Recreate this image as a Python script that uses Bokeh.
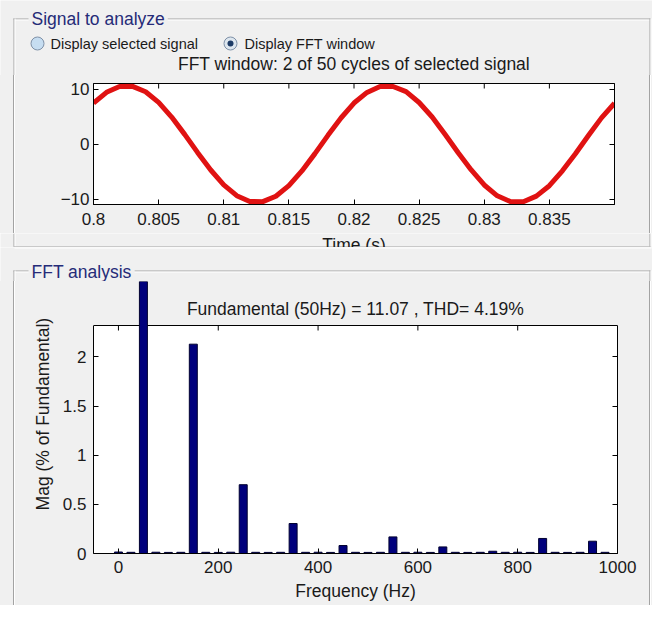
import math
from bokeh.plotting import figure
from bokeh.layouts import column, row
from bokeh.models import (FixedTicker, LinearAxis, Range1d, BoxAnnotation, Label,
                          Span, CustomJSTickFormatter)
from bokeh.embed import file_html
from bokeh.resources import INLINE

# ---------------- data ----------------
SIGNAL_TIME = [0.800, 0.801, 0.802, 0.803, 0.804, 0.805, 0.806, 0.807, 0.808, 0.809,
               0.810, 0.811, 0.812, 0.813, 0.814, 0.815, 0.816, 0.817, 0.818, 0.819,
               0.820, 0.821, 0.822, 0.823, 0.824, 0.825, 0.826, 0.827, 0.828, 0.829,
               0.830, 0.831, 0.832, 0.833, 0.834, 0.835, 0.836, 0.837, 0.838, 0.839,
               0.840]
SIGNAL_VALUE = [7.43, 9.40, 10.45, 10.48, 9.49, 7.56, 4.89, 1.75, -1.57, -4.73,
                -7.43, -9.40, -10.45, -10.48, -9.49, -7.56, -4.89, -1.75, 1.57, 4.73,
                7.45, 9.38, 10.47, 10.46, 9.51, 7.54, 4.91, 1.73, -1.59, -4.71,
                -7.45, -9.42, -10.47, -10.50, -9.47, -7.58, -4.87, -1.77, 1.55, 4.75,
                7.41]
TIME_TICKS = [0.8, 0.805, 0.81, 0.815, 0.82, 0.825, 0.83, 0.835]
TIME_TICK_LABELS = ["0.8", "0.805", "0.81", "0.815", "0.82", "0.825", "0.83", "0.835"]
SIGNAL_TICKS = [-10, 0, 10]
TIME_RANGE = (0.8, 0.84)
SIGNAL_RANGE = (-11, 11)

FREQ_HZ = [0, 25, 50, 75, 100, 125, 150, 175, 200, 225, 250, 275, 300, 325, 350,
           375, 400, 425, 450, 475, 500, 525, 550, 575, 600, 625, 650, 675, 700,
           725, 750, 775, 800, 825, 850, 875, 900, 925, 950, 975]
MAG_PCT = [0.015, 0.012, 100.0, 0.013, 0.011, 0.012, 2.13, 0.012, 0.011, 0.013,
           0.70, 0.012, 0.011, 0.012, 0.305, 0.012, 0.013, 0.011, 0.081, 0.012,
           0.011, 0.012, 0.169, 0.012, 0.013, 0.011, 0.067, 0.012, 0.011, 0.012,
           0.023, 0.012, 0.013, 0.011, 0.153, 0.012, 0.011, 0.012, 0.125, 0.012]
FREQ_TICKS = [0, 200, 400, 600, 800, 1000]
MAG_TICKS = [0, 0.5, 1, 1.5, 2]
MAG_TICK_LABELS = ["0", "0.5", "1", "1.5", "2"]
FREQ_RANGE = (-50, 1000)
MAG_BOX_TOP = 2.32

TOP_TITLE = "FFT window: 2 of 50 cycles of selected signal"
BOT_TITLE = "Fundamental (50Hz) = 11.07 , THD= 4.19%"
PANEL1 = "Signal to analyze"
PANEL2 = "FFT analysis"
RADIO_LABELS = ["Display selected signal", "Display FFT window"]
X1_LABEL = "Time (s)"
X2_LABEL = "Frequency (Hz)"
Y2_LABEL = "Mag (% of Fundamental)"

# ---------------- layout / style ----------------
FONT = "Liberation Sans"
BG = "#f0f0f0"
TXT = "#1a1a1a"
EDGE = "#a3a3a3"
TITLE_BLUE = "#252b78"
W = 652
LS = 55                          # width of the strip holding the y label
H1, H_ROW1, H2A, H2B, H_ROW2, H_FOOT = 75, 158, 14, 34, 324, 3
Y_ROW1 = H1
Y_2A = Y_ROW1 + H_ROW1
Y_2B = Y_2A + H2A
Y_ROW2 = Y_2B + H2B
Y_FOOT = Y_ROW2 + H_ROW2
# page geometry of the plot frames
T_FL, T_FR, T_FT, T_FB = 93, 614, 83, 204
B_FL, B_FR, B_FT, B_FB, B_BOXTOP = 93, 617, 281, 553, 325
MAG_VIEW_TOP = MAG_BOX_TOP * (B_FB - B_FT) / (B_FB - B_BOXTOP)
BX_L, BX_R = 13, 649            # group box vertical edges (page x)

# etched side edges of the group boxes, painted behind the transparent plot margins
SIDE_CSS = {
    "width": f"{W}px",
    "min-width": f"{W}px",
    "box-sizing": "border-box",
    "background-color": BG,
    "box-shadow": ("inset 13px 0 0 0 #f0f0f0, inset 14px 0 0 0 #a3a3a3, "
                   "inset 15px 0 0 0 #ffffff, inset -1px 0 0 0 #f0f0f0, "
                   "inset -2px 0 0 0 #ffffff, inset -3px 0 0 0 #a3a3a3"),
}


def canvas_fig(w, h, transparent=False):
    p = figure(width=w, height=h, x_range=Range1d(0, w), y_range=Range1d(h, 0),
               min_border=0, min_border_left=0, min_border_right=0,
               min_border_top=0, min_border_bottom=0,
               x_axis_location=None, y_axis_location=None,
               toolbar_location=None, output_backend="svg")
    p.background_fill_color = None if transparent else BG
    p.border_fill_color = None if transparent else BG
    p.outline_line_color = None
    p.grid.visible = False
    return p


def hline(p, x0, x1, y, color=EDGE):
    p.segment(x0=[x0], y0=[y + 0.5], x1=[x1 + 1], y1=[y + 0.5], line_color=color, line_width=1)


def vline(p, x, y0, y1, color=EDGE):
    p.segment(x0=[x + 0.5], y0=[y0], x1=[x + 0.5], y1=[y1], line_color=color, line_width=1)


def vedges(p, y0, y1):
    vline(p, BX_L, y0, y1)
    vline(p, BX_L + 1, y0, y1, "white")
    vline(p, BX_R, y0, y1)
    vline(p, BX_R + 1, y0, y1, "white")


def panel_title(p, text, x, y):
    p.add_layout(Label(x=x, y=y, text=text, text_align="left", text_baseline="middle",
                       text_font=FONT, text_font_size="17.5px", text_color=TITLE_BLUE,
                       background_fill_color=BG, padding=3))


def style_axis(ax, ticks, labels=None, show=True, standoff=6):
    ax.ticker = FixedTicker(ticks=ticks)
    ax.major_tick_in = 5
    ax.major_tick_out = 0
    ax.minor_tick_line_color = None
    ax.axis_line_color = "black"
    ax.major_tick_line_color = "black"
    ax.major_label_text_font = FONT
    ax.major_label_text_font_size = "17px"
    ax.major_label_text_color = TXT
    ax.major_label_standoff = standoff
    if labels is not None:
        ax.major_label_overrides = dict(zip(ticks, labels))
    if not show:
        ax.formatter = CustomJSTickFormatter(code="return ''")


# ---------------- header of the top panel ----------------
hdr1 = canvas_fig(W, H1)
hline(hdr1, BX_L, BX_R, 18)
hline(hdr1, BX_L + 1, BX_R, 19, "white")
vedges(hdr1, 18, H1)
panel_title(hdr1, PANEL1, 28, 18)
hdr1.scatter(x=[37, 230], y=[43, 43], marker="circle", size=13,
             fill_color=["#c6ddf1", "#dde6ee"], line_color="#7f91a8", line_width=1)
hdr1.scatter(x=[230], y=[43], marker="circle", size=6, fill_color="#1d3b66",
             line_color=None)
for lab, px in zip(RADIO_LABELS, [50, 244]):
    hdr1.add_layout(Label(x=px, y=43, text=lab, text_align="left", text_baseline="middle",
                          text_font=FONT, text_font_size="14.5px", text_color=TXT))
hdr1.add_layout(Label(x=(T_FL + T_FR) / 2, y=63, text=TOP_TITLE, text_align="center",
                      text_baseline="middle", text_font=FONT, text_font_size="17.5px",
                      text_color=TXT))

# ---------------- top plot: signal ----------------
top = figure(width=W, height=H_ROW1, x_range=Range1d(*TIME_RANGE),
             y_range=Range1d(*SIGNAL_RANGE), output_backend="svg", toolbar_location=None,
             min_border_left=T_FL, min_border_right=W - T_FR,
             min_border_top=T_FT - Y_ROW1, min_border_bottom=Y_ROW1 + H_ROW1 - T_FB)
top.background_fill_color = "white"
top.border_fill_color = None
top.outline_line_color = "black"
top.grid.visible = False
top.line(SIGNAL_TIME, SIGNAL_VALUE, line_color="#e01212", line_width=5, line_join="round")
t_tick = 5 * (SIGNAL_RANGE[1] - SIGNAL_RANGE[0]) / (T_FB - T_FT)
top.segment(x0=TIME_TICKS, x1=TIME_TICKS, y0=[SIGNAL_RANGE[1]] * len(TIME_TICKS),
            y1=[SIGNAL_RANGE[1] - t_tick] * len(TIME_TICKS), line_color="black")

style_axis(top.xaxis[0], TIME_TICKS, TIME_TICK_LABELS, standoff=8)
style_axis(top.yaxis[0], SIGNAL_TICKS, standoff=4)
ax_r = LinearAxis()
style_axis(ax_r, SIGNAL_TICKS, show=False, standoff=0)
top.add_layout(ax_r, "right")
row1 = row(top, spacing=0, styles=SIDE_CSS)

# ---------------- strip holding the (cut) time label and the panel's lower edge ------
hdr2a = canvas_fig(W, H2A)
vedges(hdr2a, 0, 246 - Y_2A)
hdr2a.add_layout(Label(x=(T_FL + T_FR) / 2, y=1, text=X1_LABEL, text_align="center",
                       text_baseline="top", text_font=FONT, text_font_size="17.5px",
                       text_color=TXT))
hline(hdr2a, BX_L, BX_R, 246 - Y_2A)

# ---------------- header of the FFT panel ----------------
hdr2b = canvas_fig(W, H2B)
hline(hdr2b, BX_L + 1, BX_R + 1, 247 - Y_2B, "white")
hline(hdr2b, BX_L, BX_R, 270 - Y_2B)
hline(hdr2b, BX_L + 1, BX_R, 271 - Y_2B, "white")
vedges(hdr2b, 270 - Y_2B, H2B)
panel_title(hdr2b, PANEL2, 28, 271 - Y_2B)

# ---------------- bottom plot: FFT ----------------
BW = W - LS
bot = figure(width=BW, height=H_ROW2, x_range=Range1d(*FREQ_RANGE),
             y_range=Range1d(0, MAG_VIEW_TOP), output_backend="svg", toolbar_location=None,
             min_border_left=B_FL - LS, min_border_right=W - B_FR,
             min_border_top=B_FT - Y_ROW2, min_border_bottom=Y_ROW2 + H_ROW2 - B_FB)
bot.background_fill_color = BG
bot.border_fill_color = None
bot.outline_line_color = None
bot.grid.visible = False
bot.add_layout(BoxAnnotation(bottom=0, top=MAG_BOX_TOP, fill_color="white", fill_alpha=1,
                             line_color=None, level="underlay"))
bot.add_layout(Span(location=MAG_BOX_TOP, dimension="width", line_color="black",
                    line_width=1, level="underlay"))
bot.vbar(x=FREQ_HZ, top=MAG_PCT, bottom=0, width=16, fill_color="#00007c",
         line_color="#000030", line_width=1)
b_tick = 5 * MAG_VIEW_TOP / (B_FB - B_FT)
bot.segment(x0=FREQ_TICKS, x1=FREQ_TICKS, y0=[MAG_BOX_TOP] * len(FREQ_TICKS),
            y1=[MAG_BOX_TOP - b_tick] * len(FREQ_TICKS), line_color="black", line_width=1)

style_axis(bot.xaxis[0], FREQ_TICKS, standoff=7)
bot.xaxis[0].axis_label = X2_LABEL
bot.xaxis[0].axis_label_text_font = FONT
bot.xaxis[0].axis_label_text_font_size = "17.5px"
bot.xaxis[0].axis_label_text_font_style = "normal"
bot.xaxis[0].axis_label_text_color = TXT
bot.xaxis[0].axis_label_standoff = 5
style_axis(bot.yaxis[0], MAG_TICKS, MAG_TICK_LABELS, standoff=7)
bot.yaxis[0].bounds = (0, MAG_BOX_TOP)
ax_br = LinearAxis(bounds=(0, MAG_BOX_TOP))
style_axis(ax_br, MAG_TICKS, show=False, standoff=0)
bot.add_layout(ax_br, "right")
bot.add_layout(Label(x=(FREQ_RANGE[0] + FREQ_RANGE[1]) / 2, y=MAG_BOX_TOP, y_offset=17,
                     text=BOT_TITLE, text_align="center", text_baseline="middle",
                     text_font=FONT, text_font_size="17.5px", text_color=TXT))

left2 = canvas_fig(LS, H_ROW2, transparent=True)
left2.add_layout(Label(x=42, y=(B_FB + B_BOXTOP) / 2 - Y_ROW2, angle=math.pi / 2,
                       text=Y2_LABEL, text_align="center", text_baseline="middle",
                       text_font=FONT, text_font_size="17.5px", text_color=TXT))
row2 = row(left2, bot, spacing=0, styles=SIDE_CSS)

# ---------------- footer ----------------
foot = canvas_fig(W, H_FOOT)
vedges(foot, 0, 1)
hline(foot, BX_L, BX_R, 0)
hline(foot, BX_L, BX_R + 1, 1, "white")

layout = column(hdr1, row1, hdr2a, hdr2b, row2, foot, spacing=0)
open("out.html", "w").write(file_html(layout, INLINE))
